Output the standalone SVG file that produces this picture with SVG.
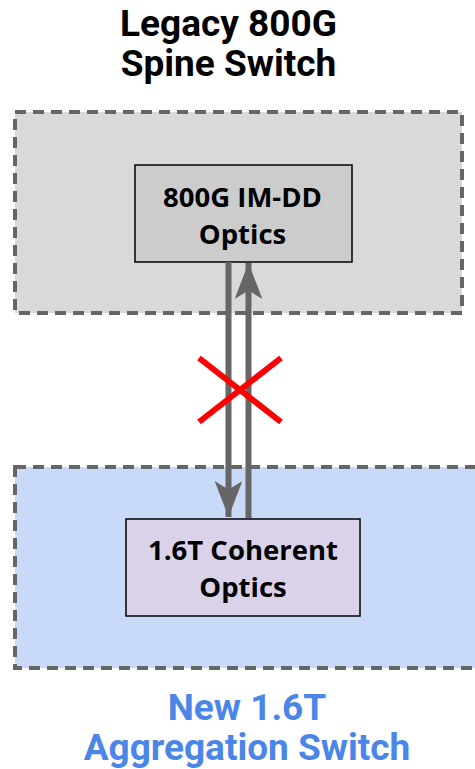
<svg xmlns="http://www.w3.org/2000/svg" width="475" height="769" viewBox="0 0 475 769">
<style>
.grp{stroke:#666666;stroke-width:4;stroke-dasharray:11 7}
.node{stroke:#000;stroke-width:1.5}
.title{font-family:Roboto,"Liberation Sans",sans-serif;font-weight:bold;font-size:37px;text-anchor:middle}
.lbl{font-family:"Open Sans","Liberation Sans",sans-serif;font-weight:bold;font-size:27.5px;text-anchor:middle;fill:#000}
.conn{stroke:#666666;stroke-width:6;fill:none}
.x{stroke:#ff0000;stroke-width:6}
</style>
<defs>
<marker id="ah" viewBox="0 0 13 10" refX="13" refY="5" markerWidth="6" markerHeight="4.6" markerUnits="strokeWidth" orient="auto">
<path d="M0,0 L13,5 L0,10 L3,5 z" fill="#666666"/>
</marker>
</defs>
<g id="spine-switch">
<rect class="grp" x="15" y="112" width="447" height="201" fill="#d9d9d9"/>
<text class="title" x="228.5" y="36" fill="#000">Legacy 800G</text>
<text class="title" x="228.5" y="76" fill="#000">Spine Switch</text>
</g>
<g id="agg-switch">
<rect class="grp" x="15" y="467" width="470" height="201" fill="#c9daf8"/>
<text class="title" x="247" y="720" fill="#4a86e8">New 1.6T</text>
<text class="title" x="247" y="760" fill="#4a86e8">Aggregation Switch</text>
</g>
<g id="imdd-optics">
<rect class="node" x="135" y="165" width="217" height="97" fill="#cccccc"/>
<text class="lbl" x="242.5" y="206.5">800G IM-DD</text>
<text class="lbl" x="242.5" y="244">Optics</text>
</g>
<g id="coherent-optics">
<rect class="node" x="126" y="519" width="234" height="97" fill="#d9d2e9"/>
<text class="lbl" x="243" y="560">1.6T Coherent</text>
<text class="lbl" x="243" y="597">Optics</text>
</g>
<g id="connectors">
<line class="conn" x1="228.5" y1="262" x2="228.5" y2="517" marker-end="url(#ah)"/>
<line class="conn" x1="248.5" y1="518" x2="248.5" y2="263" marker-end="url(#ah)"/>
</g>
<g id="blocked">
<line class="x" x1="199" y1="358" x2="281" y2="422"/>
<line class="x" x1="199" y1="422" x2="281" y2="358"/>
</g>
</svg>
